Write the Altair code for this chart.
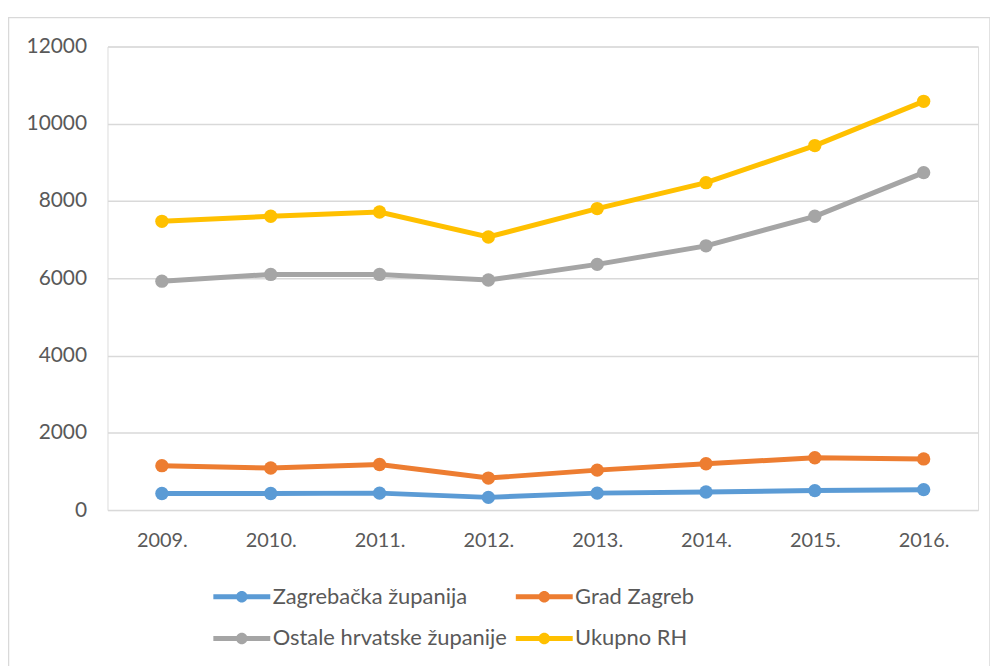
import altair as alt
import pandas as pd

years = ["2009.", "2010.", "2011.", "2012.", "2013.", "2014.", "2015.", "2016."]
series = ["Zagrebačka županija", "Grad Zagreb", "Ostale hrvatske županije", "Ukupno RH"]
zagrebacka = [430, 430, 440, 330, 440, 470, 505, 530]
grad_zagreb = [1150, 1090, 1180, 830, 1035, 1200, 1355, 1325]
ostale = [5925, 6100, 6100, 5955, 6360, 6840, 7605, 8735]
ukupno = [7475, 7605, 7715, 7070, 7805, 8475, 9435, 10580]
colors = ["#5B9BD5", "#ED7D31", "#A5A5A5", "#FFC000"]
y_ticks = [0, 2000, 4000, 6000, 8000, 10000, 12000]

rows = []
for name, vals in zip(series, [zagrebacka, grad_zagreb, ostale, ukupno]):
    for yr, v in zip(years, vals):
        rows.append({"year": yr, "series": name, "value": v})
df = pd.DataFrame(rows)

FONT = "Lato"
TXT = "#595959"

legend_path = ("M-5.2,-0.45 L5.2,-0.45 L5.2,0.45 L-5.2,0.45 Z "
               "M-1.05,0 A1.05,1.05 0 1,1 1.05,0 A1.05,1.05 0 1,1 -1.05,0 Z")

color = alt.Color(
    "series:N",
    scale=alt.Scale(domain=series, range=colors),
    sort=series,
    legend=alt.Legend(
        title=None,
        orient="none",
        legendX=124,
        legendY=542,
        columns=2,
        direction="horizontal",
        gridAlign="each",
        columnPadding=8,
        rowPadding=20,
        symbolType=legend_path,
        symbolSize=121,
        symbolStrokeWidth=0,
        symbolOpacity=1,
        labelOffset=20,
        labelFont=FONT,
        labelFontSize=22,
        labelColor=TXT,
        labelLimit=400,
    ),
)

x = alt.X("year:N", sort=years, scale=alt.Scale(padding=0.5),
          axis=alt.Axis(title=None, labelAngle=0, grid=False, ticks=False, tickSize=0,
                        domain=False, labelFont=FONT, labelFontSize=20,
                        labelColor=TXT, labelPadding=21))
y = alt.Y("value:Q", scale=alt.Scale(domain=[0, 12000], nice=False),
          axis=alt.Axis(title=None, values=y_ticks, format="d", grid=True,
                        gridColor="#D9D9D9", gridWidth=1.5, ticks=False, tickSize=0,
                        domain=False, labelFont=FONT, labelFontSize=21,
                        labelColor=TXT, labelPadding=21))

base = alt.Chart(df)

lines = base.mark_line(strokeWidth=5).encode(x=x, y=y, color=color, detail="series:N")
points = base.mark_point(filled=True, size=180, opacity=1).encode(
    x=x, y=y, color=color)

frame = alt.Chart(pd.DataFrame({"f": [0]})).mark_rect(
    fill="white", fillOpacity=0, stroke="#D9D9D9", strokeWidth=1.5
).encode(x=alt.value(-99.5), x2=alt.value(887), y=alt.value(-29), y2=alt.value(640))

chart = alt.layer(frame, lines, points).properties(
    width=875, height=466,
    autosize=alt.AutoSizeParams(type="none"),
    padding={"left": 100, "top": 37, "right": 12, "bottom": 155},
).configure_view(stroke=None).configure(background="white")

chart.save("out.html", embed_options={"renderer": "svg", "actions": False})
